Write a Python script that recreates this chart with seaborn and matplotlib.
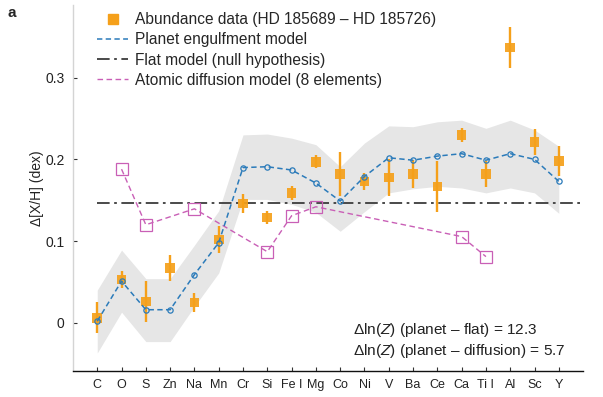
import numpy as np
import pandas as pd
import matplotlib
matplotlib.use("Agg")
import matplotlib.pyplot as plt
from matplotlib.lines import Line2D
import seaborn as sns

# ---------------------------------------------------------------------
# DATA
# ---------------------------------------------------------------------
ELEMENTS = ["C", "O", "S", "Zn", "Na", "Mn", "Cr", "Si", "Fe I", "Mg",
            "Co", "Ni", "V", "Ba", "Ce", "Ca", "Ti I", "Al", "Sc", "Y"]

ABUND     = [0.006, 0.053, 0.026, 0.067, 0.025, 0.102, 0.146, 0.129, 0.159, 0.197,
             0.182, 0.173, 0.178, 0.182, 0.167, 0.230, 0.182, 0.337, 0.221, 0.198]
ABUND_ERR = [0.019, 0.010, 0.025, 0.016, 0.012, 0.016, 0.012, 0.008, 0.009, 0.008,
             0.027, 0.010, 0.023, 0.017, 0.031, 0.009, 0.016, 0.025, 0.016, 0.018]

PLANET    = [0.002, 0.051, 0.016, 0.016, 0.059, 0.098, 0.190, 0.191, 0.187, 0.171,
             0.149, 0.179, 0.202, 0.199, 0.204, 0.207, 0.199, 0.207, 0.200, 0.173]
BAND_HI   = [0.040, 0.089, 0.054, 0.054, 0.095, 0.137, 0.230, 0.231, 0.226, 0.218,
             0.191, 0.220, 0.241, 0.240, 0.246, 0.248, 0.238, 0.248, 0.236, 0.216]
BAND_LO   = [-0.037, 0.013, -0.023, -0.023, 0.020, 0.061, 0.151, 0.151, 0.145, 0.135,
             0.112, 0.136, 0.159, 0.164, 0.167, 0.165, 0.159, 0.165, 0.159, 0.134]

FLAT = 0.1465

DIFF_ELEMENTS = ["O", "S", "Na", "Si", "Fe I", "Mg", "Ca", "Ti I"]
DIFF_VALUES   = [0.188, 0.120, 0.1395, 0.087, 0.131, 0.142, 0.1055, 0.081]

LEGEND_LABELS = ["Abundance data (HD 185689 \u2013 HD 185726)",
                 "Planet engulfment model",
                 "Flat model (null hypothesis)",
                 "Atomic diffusion model (8 elements)"]
EVIDENCE = ["$\\Delta$ln($\\mathit{Z}$) (planet \u2013 flat) = 12.3",
            "$\\Delta$ln($\\mathit{Z}$) (planet \u2013 diffusion) = 5.7"]

ORANGE = "#f5a01a"
BLUE   = "#2b7bba"
PINK   = "#c95fb6"
DARK   = "#3c3c3c"
BAND   = "#e6e6e6"

# ---------------------------------------------------------------------
# FRAMES
# ---------------------------------------------------------------------
pos = {e: i for i, e in enumerate(ELEMENTS)}
df = pd.DataFrame({"el": ELEMENTS, "x": np.arange(len(ELEMENTS)),
                   "abund": ABUND, "err": ABUND_ERR, "planet": PLANET,
                   "hi": BAND_HI, "lo": BAND_LO})
diff = pd.DataFrame({"el": DIFF_ELEMENTS,
                     "x": [pos[e] for e in DIFF_ELEMENTS],
                     "val": DIFF_VALUES})

sns.set_theme(style="ticks")
plt.rcParams["font.family"] = ["Liberation Sans", "DejaVu Sans"]
plt.rcParams["mathtext.fontset"] = "custom"
plt.rcParams["mathtext.rm"] = "Liberation Sans"
plt.rcParams["mathtext.it"] = "Liberation Sans:italic"

fig = plt.figure(figsize=(6.03, 3.97), dpi=100)
ax = fig.add_axes([0.121, 0.0655, 0.846, 0.922])

# confidence band of the engulfment model
ax.fill_between(df["x"], df["lo"], df["hi"], color=BAND, lw=0, zorder=1)

# flat model
ax.hlines(FLAT, 0, len(ELEMENTS), colors=DARK, lw=1.3,
          linestyles=[(0, (7, 2.5, 1.5, 2.5))], zorder=2)

# atomic diffusion model
sns.lineplot(data=diff, x="x", y="val", ax=ax, color=PINK, lw=1.0,
             linestyle=(0, (4, 2.5)), marker="s", markersize=9,
             markerfacecolor="none", markeredgecolor=PINK, markeredgewidth=0.9,
             zorder=3)

# abundance data
ax.errorbar(df["x"], df["abund"], yerr=df["err"], fmt="none",
            ecolor=ORANGE, elinewidth=1.7, capsize=0, zorder=4)
sns.scatterplot(data=df, x="x", y="abund", ax=ax, marker="s", s=48,
                color=ORANGE, edgecolor="none", alpha=0.92, zorder=5)

# planet engulfment model
sns.lineplot(data=df, x="x", y="planet", ax=ax, color=BLUE, lw=1.1,
             linestyle=(0, (3.5, 2.2)), marker="o", markersize=3.8,
             markerfacecolor="none", markeredgecolor=BLUE, markeredgewidth=0.9,
             zorder=6)

# axes styling
ax.set_xlim(-1, len(ELEMENTS))
ax.set_ylim(-0.059, 0.389)
ax.set_xticks(df["x"])
ax.set_xticklabels(ELEMENTS, fontsize=9, color="#222222")
ax.set_yticks([0, 0.1, 0.2, 0.3])
ax.set_yticklabels(["0", "0.1", "0.2", "0.3"], fontsize=10, color="#222222")
ax.tick_params(axis="both", direction="in", length=3, width=0.8, color="#333333")
ax.tick_params(axis="x", pad=6)
ax.tick_params(axis="y", pad=6)
ax.set_xlabel("")
ax.set_ylabel("\u0394[X/H] (dex)", fontsize=10, color="#222222", labelpad=1)
for s in ["top", "right"]:
    ax.spines[s].set_visible(False)
ax.spines["left"].set_color("#d4d4d4")
ax.spines["left"].set_linewidth(1.0)
ax.spines["bottom"].set_color("#111111")
ax.spines["bottom"].set_linewidth(1.0)

handles = [
    Line2D([], [], marker="s", ls="none", color=ORANGE, ms=7),
    Line2D([], [], color=BLUE, lw=1.1, ls=(0, (3.5, 2.2))),
    Line2D([], [], color=DARK, lw=1.3, ls=(0, (7, 2.5, 1.5, 2.5))),
    Line2D([], [], color=PINK, lw=1.0, ls=(0, (4, 2.5))),
]
ax.legend(handles, LEGEND_LABELS, loc="upper left", bbox_to_anchor=(0.035, 0.997),
          frameon=False, fontsize=11.2, handlelength=2.0, handletextpad=0.45,
          labelspacing=0.33, borderaxespad=0)

for i, txt in enumerate(EVIDENCE):
    ax.text(0.549, 0.112 - i * 0.057, txt, transform=ax.transAxes,
            ha="left", va="center", fontsize=11.1, color="#222222")

fig.text(0.012, 0.968, "a", fontsize=11, fontweight="bold", va="center")

fig.savefig("out.png", dpi=100)
